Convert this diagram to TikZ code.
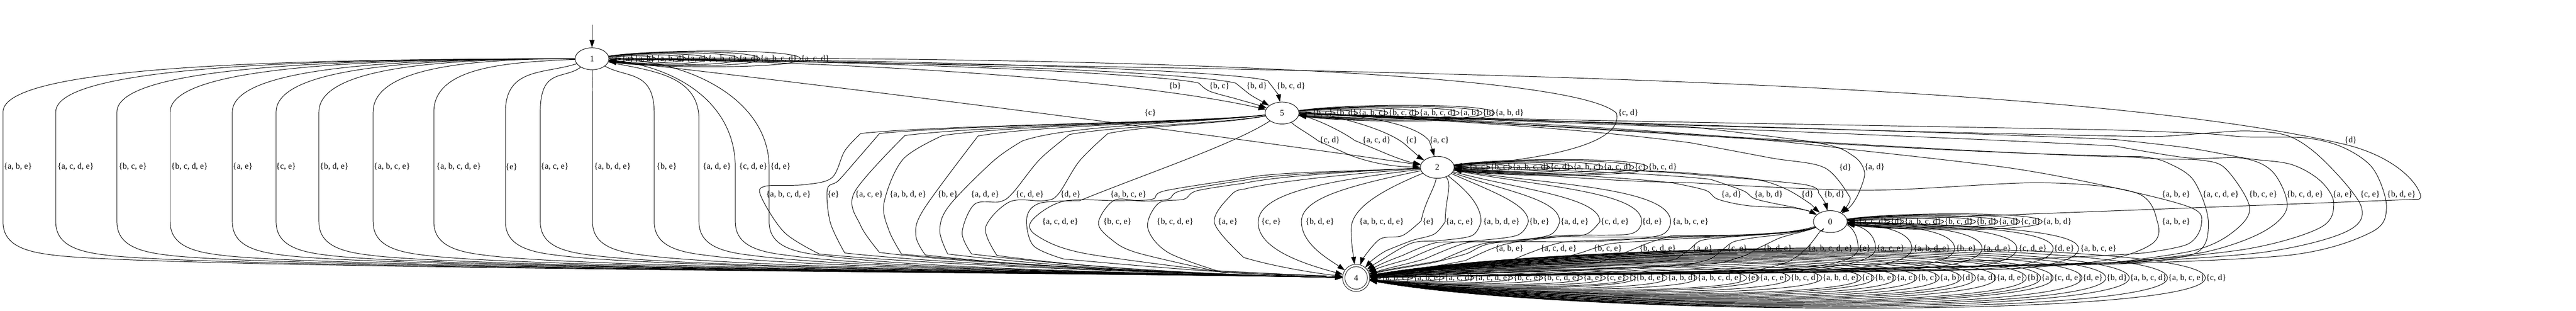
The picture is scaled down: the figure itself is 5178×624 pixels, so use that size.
\documentclass[tikz,border=0pt]{standalone}
\usepackage{fontspec}
\setmainfont{Liberation Serif}
\usetikzlibrary{shapes.geometric,arrows.meta}
\tikzset{
  trans/.style={line width=1pt,-{Triangle[length=15pt,width=10pt]}},
  stat/.style={draw,ellipse,line width=1pt,minimum width=68pt,minimum height=44pt,inner sep=0pt,font=\fontsize{17}{17}\selectfont},
  final/.style={draw,circle,line width=1pt,double,double distance=3.6pt,minimum size=50pt,inner sep=0pt,outer sep=2.5pt,font=\fontsize{17}{17}\selectfont},
  lab/.style={inner sep=0pt,font=\fontsize{17}{17}\selectfont},
}
\newcommand{\route}[5]{\draw[trans] (#1) .. controls #2 .. #3 plot[smooth,tension=.55] coordinates {#3} .. controls #4 .. (#5);}
\newcommand{\labelrow}[3]{\foreach \lx/\txt in {#3} \node[lab] (#1\lx) at (\lx,#2) {\{\txt\}};}
\newcommand{\selfloops}[5]{\foreach \X/\txt [count=\i] in {#5} {
    \node[lab,anchor=west] (#1\i) at (\X,#4) {\{\txt\}};
    \draw[trans] (#2) .. controls ({#3+.25*(\X-#3)},{#4-2.5*\i}) and (\X-1,{#4-2.5*\i}) .. (\X-1,#4) .. controls (\X-1,{#4+2.5*\i}) and ({#3+.25*(\X-#3)},{#4+2.5*\i}) .. (#2);
}}
\begin{document}
\begin{tikzpicture}[x=1pt,y=-1pt]
  \useasboundingbox (0,0) rectangle (5178,624);
  %% States
  \node[stat]  (n1) at (1190,118) {1};
  \node[stat]  (n5) at (2577,227) {5};
  \node[stat]  (n2) at (2889,336) {2};
  \node[stat]  (n0) at (3679,445) {0};
  \node[final] (n4) at (2726,558) {4};
  \coordinate (init) at (1190,50);
  \draw[trans] (init) -- (n1);
  %% Self loops
  \selfloops{la}{n1}{1224}{118}{1250/{a},1275/{a, b},1319/{a, b, d},1380/{a, c},1423/{a, b, c},1485/{a, d},1528/{a, b, c, d},1610/{a, c, d}}
  \selfloops{lb}{n5}{2611}{227}{2638/{b, c},2685/{b, d},2730/{a, b, c},2791/{b, c, d},2853/{a, b, c, d},2934/{a, b},2980/{b},3005/{a, b, d}}
  \selfloops{lc}{n2}{2923}{336}{2953/{a, c},2996/{b, c},3040/{a, b, c, d},3116/{c, d},3162/{a, b, c},3223/{a, c, d},3285/{c},3313/{b, c, d}}
  \selfloops{ld}{n0}{3713}{445}{3736/{a, c, d},3800/{d},3828/{a, b, c, d},3908/{b, c, d},3972/{b, d},4017/{a, d},4061/{c, d},4106/{a, b, d}}
  \selfloops{le}{n4}{2754}{558}{2777/{a, b, c},2841/{a, b, e},2904/{a, c, d},2964/{a, c, d, e},3042/{b, c, e},3102/{b, c, d, e},3182/{a, e},3228/{c, e},3274/{},3288/{b, d, e},3352/{a, b, d},3412/{a, b, c, d, e},3512/{e},3537/{a, c, e},3599/{b, c, d},3663/{a, b, d, e},3742/{c},3768/{b, e},3812/{a, c},3854/{b, c},3899/{a, b},3943/{d},3972/{a, d},4013/{a, d, e},4074/{b},4103/{a},4128/{c, d, e},4186/{d, e},4234/{b, d},4281/{a, b, c, d},4358/{a, b, c, e},4434/{c, d}}
  %% From 1 to 4
  \foreach \x/\lx/\cy/\ty/\txt in {6/36/135/225/{a, b, e},112/152/135/225/{a, c, d, e},235/267/135/225/{b, c, e},342/381/135/225/{b, c, d, e},467/488/135/225/{a, e},555/575/135/225/{c, e},641/672/135/225/{b, d, e},750/788/135/225/{a, b, c, e},872/922/135/225/{a, b, c, d, e},1016/1028/135/225/{e},1086/1115/135/225/{a, c, e},1191/1231/135/225/{a, b, d, e},1315/1340/140/227/{b, e},1405/1441/150/240/{a, d, e},1478/1514/200/336/{c, d, e},1546/1569/200/336/{d, e}} {
    \draw[trans] (n1) .. controls ({\x+.45*(1190-\x)},{118+max(0,60-abs(1190-\x)/6)}) and (\x,\cy) .. (\x,\ty) -- (\x,445) .. controls (\x,490) and (\x+40,505) .. (\x+100,512) .. controls (\x+300,540) and (2300,548) .. (n4);
    \node[lab] (p\lx) at (\lx,335) {\{\txt\}};
  }
  %% From 1 to 5, 2 and 0
  \draw[trans] (n1) .. controls (1800,125) and (2300,165) .. (n5);
  \route{n1}{(1800,122) and (2350,150)}{(2410,167)(2431,183)(2480,197)}{(2500,203) and (2520,208)}{n5}
  \route{n1}{(1800,120) and (2400,145)}{(2484,167)(2510,188)}{(2520,195) and (2530,200)}{n5}
  \route{n1}{(1800,118) and (2470,140)}{(2548,162)(2562,180)}{(2566,186) and (2570,190)}{n5}
  \labelrow{q}{173}{2362/{b},2451/{b, c},2526/{b, d},2595/{b, c, d}}
  \draw[trans] (n1) .. controls (1700,175) and (2400,265) .. (n2);
  \draw[trans] (n1) .. controls (2000,112) and (3150,135) .. (3249,227) .. controls (3265,290) and (3100,320) .. (n2);
  \node[lab] (r1) at (2312,227) {\{c\}};
  \node[lab] (r2) at (3273,227) {\{c, d\}};
  \draw[trans] (n1) .. controls (2600,140) and (4100,150) .. (4705,288) .. controls (4805,310) and (4855,360) .. (4865,390) .. controls (4867,396) and (4865,399) .. (4862,400) -- (n0);
  \node[lab] (r3) at (4725,282) {\{d\}};
  %% From 5 to 2 and 0
  \route{n5}{(2605,255) and (2625,265)}{(2650,283)(2710,310)}{(2760,330) and (2810,335)}{n2}
  \route{n5}{(2640,235) and (2700,265)}{(2723,282)(2790,310)}{(2810,318) and (2830,325)}{n2}
  \route{n5}{(2660,225) and (2780,255)}{(2822,288)(2845,308)}{(2852,315) and (2860,320)}{n2}
  \route{n5}{(2680,225) and (2840,240)}{(2873,283)(2879,300)}{(2881,306) and (2882,310)}{n2}
  \labelrow{s}{282}{2673/{c, d},2767/{a, c, d},2837/{c},2893/{a, c}}
  \route{n5}{(2900,240) and (3200,260)}{(3400,287)(3559,317)(3668,337)(3719,397)}{(3720,405) and (3712,415)}{n0}
  \route{n5}{(2900,235) and (3200,245)}{(3400,255)(3655,287)(3725,313)(3748,347)(3735,390)}{(3728,405) and (3720,415)}{n0}
  \node[lab] (s1) at (3709,336) {\{d\}};
  \node[lab] (s2) at (3768,336) {\{a, d\}};
  %% From 5 to 4, left side
  \route{n5}{(2400,247) and (1900,250)}{(1730,268)(1698,303)(1672,357)(1615,371)(1538,374)(1530,395)(1577,467)(1647,510)}{(1900,535) and (2450,552)}{n4}
  \route{n5}{(2400,247) and (1950,250)}{(1768,268)(1723,320)(1685,363)(1663,380)(1669,447)(1698,508)}{(1950,535) and (2450,552)}{n4}
  \route{n5}{(2400,247) and (2000,250)}{(1819,272)(1717,387)(1730,453)(1768,507)}{(2000,535) and (2450,552)}{n4}
  \route{n5}{(2400,247) and (2050,250)}{(1895,272)(1815,320)(1777,407)(1787,463)(1812,510)}{(2050,535) and (2450,552)}{n4}
  \route{n5}{(2400,248) and (2100,250)}{(1966,273)(1857,420)(1841,473)(1860,512)}{(2100,540) and (2450,552)}{n4}
  \route{n5}{(2400,248) and (2150,250)}{(2055,283)(1997,323)(1908,413)(1889,463)(1905,510)}{(2150,540) and (2450,552)}{n4}
  \route{n5}{(2450,249) and (2250,252)}{(2150,270)(2090,320)(2036,387)(2010,405)(1959,410)(1934,467)(1953,510)}{(2200,540) and (2450,552)}{n4}
  \route{n5}{(2450,250) and (2320,250)}{(2227,268)(2170,323)(2127,390)(2099,403)(2030,405)(1981,457)(2004,513)}{(2200,540) and (2450,552)}{n4}
  \route{n5}{(2480,290) and (2300,350)}{(2170,403)(2090,408)(2064,437)(2077,493)(2138,520)}{(2300,535) and (2500,552)}{n4}
  \labelrow{t}{390}{1585/{a, b, c, d, e},1675/{e},1747/{a, c, e},1825/{a, b, d, e},1905/{b, e},1980/{a, d, e},2070/{c, d, e},2152/{d, e},2268/{a, b, c, e}}
  %% From 5 to 4, right side
  \route{n5}{(3000,240) and (3500,270)}{(3719,300)(4038,337)(4250,377)(4404,417)(4425,450)(4398,490)(4309,508)}{(4100,525) and (3100,550)}{n4}
  \route{n5}{(3000,240) and (3800,300)}{(4250,315)(4309,315)(4357,327)(4410,363)(4439,447)(4410,510)(4250,530)}{(3800,540) and (3100,550)}{n4}
  \route{n5}{(3000,240) and (3800,305)}{(4250,313)(4339,319)(4428,322)(4475,340)(4522,417)(4487,467)(4410,503)(4250,527)}{(3800,540) and (3100,550)}{n4}
  \route{n5}{(3000,240) and (3800,270)}{(4250,293)(4398,317)(4510,318)(4570,347)(4597,417)(4546,467)(4428,507)(4250,527)}{(3800,540) and (3100,550)}{n4}
  \route{n5}{(3000,240) and (3800,260)}{(4250,280)(4398,297)(4516,318)(4605,330)(4664,363)(4691,408)(4664,457)(4516,500)(4250,528)}{(3800,540) and (3100,550)}{n4}
  \route{n5}{(3000,240) and (3800,265)}{(4250,273)(4339,274)(4428,268)(4522,263)(4605,275)(4676,327)(4747,417)(4712,467)(4546,507)(4250,528)}{(3800,540) and (3100,550)}{n4}
  \route{n5}{(3000,240) and (3800,252)}{(4250,261)(4428,268)(4516,275)(4635,277)(4712,297)(4771,340)(4797,417)(4765,467)(4605,512)(4250,530)}{(3800,540) and (3100,550)}{n4}
  \labelrow{u}{390}{4374/{a, b, e},4464/{a, c, d, e},4549/{b, c, e},4633/{b, c, d, e},4709/{a, e},4764/{c, e},4827/{b, d, e}}
  %% From 2 to 0
  \route{n2}{(3050,345) and (3250,355)}{(3361,367)(3428,382)(3453,400)(3514,413)(3600,417)}{(3625,420) and (3640,425)}{n0}
  \route{n2}{(3050,340) and (3300,345)}{(3438,360)(3504,383)(3530,400)(3600,415)}{(3625,420) and (3640,425)}{n0}
  \route{n2}{(3050,335) and (3300,340)}{(3400,348)(3528,360)(3591,380)(3640,410)}{(3648,418) and (3652,422)}{n0}
  \route{n2}{(3050,335) and (3300,340)}{(3400,350)(3623,370)(3655,387)}{(3665,400) and (3670,410)}{n0}
  \labelrow{v}{390}{3480/{a, d},3555/{a, b, d},3633/{d},3687/{b, d}}
  %% From 2 to 4
  \route{n2}{(2700,345) and (2560,345)}{(2500,358)(2342,383)(2316,400)(2253,403)(2138,404)(2074,443)(2084,473)(2176,508)(2431,543)}{(2550,550) and (2650,553)}{n4}
  \route{n2}{(2700,345) and (2560,350)}{(2500,362)(2374,383)(2348,400)(2297,404)(2240,402)(2208,447)(2233,480)(2284,507)(2438,543)}{(2550,550) and (2650,553)}{n4}
  \route{n2}{(2700,345) and (2560,355)}{(2500,368)(2406,383)(2380,400)(2329,408)(2307,457)(2348,507)(2457,547)}{(2550,552) and (2650,553)}{n4}
  \route{n2}{(2700,350) and (2560,365)}{(2500,380)(2476,390)(2441,447)(2500,517)}{(2560,535) and (2640,548)}{n4}
  \draw[trans] (n2) .. controls (2650,365) and (2529,390) .. (2529,447) .. controls (2529,500) and (2620,530) .. (n4);
  \draw[trans] (n2) .. controls (2700,375) and (2616,400) .. (2616,445) .. controls (2616,490) and (2670,520) .. (n4);
  \draw[trans] (n2) .. controls (2770,385) and (2716,420) .. (2716,460) .. controls (2716,490) and (2720,510) .. (n4);
  \route{n2}{(2885,375) and (2862,410)}{(2857,443)(2819,473)(2774,480)(2739,520)}{(2737,525) and (2735,530)}{n4}
  \route{n2}{(2920,370) and (2905,400)}{(2905,445)(2883,470)(2838,483)(2787,503)}{(2770,512) and (2755,525)}{n4}
  \route{n2}{(2945,380) and (2977,410)}{(2977,445)(2959,473)(2895,483)(2838,488)(2780,520)}{(2770,526) and (2760,532)}{n4}
  \route{n2}{(3000,385) and (3072,410)}{(3072,445)(3048,473)(2946,485)(2883,488)(2819,513)}{(2795,522) and (2775,530)}{n4}
  \route{n2}{(3030,385) and (3135,400)}{(3135,445)(3112,473)(3010,485)(2915,488)(2832,520)}{(2805,528) and (2780,534)}{n4}
  \route{n2}{(3050,380) and (3216,395)}{(3216,445)(3189,470)(3138,475)(3010,485)(2946,488)(2864,520)}{(2830,530) and (2790,538)}{n4}
  \route{n2}{(3100,375) and (3300,385)}{(3300,445)(3275,470)(3138,473)(3042,485)(2978,490)(2895,523)}{(2850,532) and (2790,540)}{n4}
  \route{n2}{(3100,370) and (3358,375)}{(3358,445)(3335,473)(3201,485)(3010,487)(2946,510)(2883,527)}{(2840,535) and (2790,542)}{n4}
  \route{n2}{(3100,352) and (3250,365)}{(3400,367)(3751,382)(4100,367)(4293,387)(4337,447)(4325,490)(4229,523)(4038,540)}{(3700,548) and (3100,550)}{n4}
  \labelrow{w}{445}{2131/{a, c, d, e},2246/{b, c, e},2362/{b, c, d, e},2468/{a, e},2555/{c, e},2653/{b, d, e},2777/{a, b, c, d, e},2871/{e},2934/{a, c, e},3018/{a, b, d, e},3094/{b, e},3165/{a, d, e},3246/{c, d, e},3321/{d, e},3398/{a, b, c, e},4374/{a, b, e}}
  %% From 0 to 4, left side
  \route{n0}{(3600,475) and (3300,478)}{(3138,475)(3042,487)(2997,500)(2946,523)}{(2890,535) and (2810,545)}{n4}
  \route{n0}{(3600,475) and (3350,475)}{(3201,483)(3138,487)(3074,508)(3029,527)}{(2950,538) and (2810,546)}{n4}
  \route{n0}{(3600,475) and (3400,475)}{(3297,485)(3233,490)(3176,508)(3106,527)}{(3000,540) and (2820,547)}{n4}
  \route{n0}{(3600,475) and (3450,472)}{(3361,473)(3316,487)(3272,505)(3214,527)}{(3100,542) and (2850,548)}{n4}
  \route{n0}{(3600,470) and (3500,473)}{(3464,477)(3419,483)(3397,500)(3370,520)}{(3300,535) and (2900,548)}{n4}
  \route{n0}{(3620,468) and (3560,473)}{(3528,477)(3486,485)(3464,500)(3438,520)(3400,530)}{(3300,540) and (2900,549)}{n4}
  \route{n0}{(3630,465) and (3590,472)}{(3572,480)(3531,500)(3508,513)(3464,527)}{(3350,540) and (2900,550)}{n4}
  \route{n0}{(3670,455) and (3665,460)}{(3658,465)(3630,500)(3591,527)(3528,543)}{(3400,550) and (2950,551)}{n4}
  %% From 0 to 4, right side
  \foreach \x in {3735,3770,3843,3929,3984,4054,4127,4178} {
    \draw[trans] (n0) .. controls ({\x-.35*(\x-3679)},452) and (\x,465) .. (\x,499) .. controls (\x,522) and (\x-60,535) .. (\x-140,540) .. controls (\x-500,550) and (3000,552) .. (n4);
  }
  \labelrow{y}{499}{3034/{a, b, e},3133/{a, c, d, e},3232/{b, c, e},3332/{b, c, d, e},3422/{a, e},3492/{c, e},3573/{b, d, e},3679/{a, b, c, d, e},3748/{e},3800/{a, c, e},3883/{a, b, d, e},3952/{b, e},4014/{a, d, e},4086/{c, d, e},4149/{d, e},4218/{a, b, c, e}}
\end{tikzpicture}
\end{document}
